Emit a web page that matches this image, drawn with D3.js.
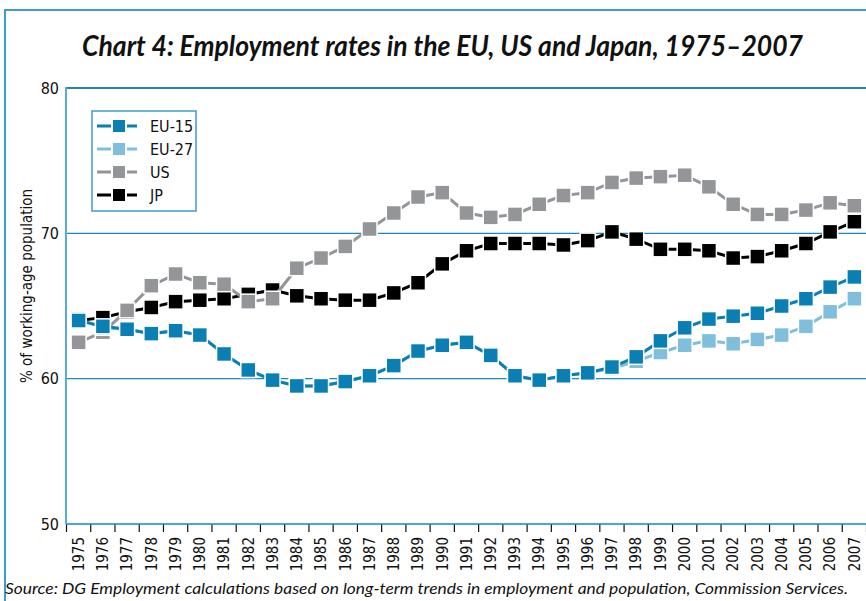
<!DOCTYPE html>
<html lang="en">
<head>
  <meta charset='utf-8'>
  <title>Chart 4: Employment rates in the EU, US and Japan, 1975-2007</title>

  <style>
    body { margin: 0; background: #fff; }
    svg { display: block; }
    .cond { font-family: "DejaVu Sans Condensed", "Liberation Sans Narrow", sans-serif; font-stretch: condensed; }
  </style>
</head>

<body>
  <div id="chart4"></div>
</body>

<script src="https://cdn.jsdelivr.net/npm/d3@7/dist/d3.min.js"></script>

<script>

  ////////////////////////////////////////////////// DATA

  var years = d3.range(1975, 2008);

  var eu15 = [64.0, 63.6, 63.4, 63.1, 63.3, 63.0, 61.7, 60.6, 59.9, 59.5, 59.5, 59.8,
              60.2, 60.9, 61.9, 62.3, 62.5, 61.6, 60.2, 59.9, 60.2, 60.4, 60.8,
              61.5, 62.6, 63.5, 64.1, 64.3, 64.5, 65.0, 65.5, 66.3, 67.0];

  var eu27 = [64.1, 63.5, 63.4, 63.1, 63.3, 63.0, 61.7, 60.6, 59.9, 59.5, 59.5, 59.8,
              60.2, 60.9, 61.9, 62.3, 62.5, 61.6, 60.2, 59.9, 60.2, 60.4, 60.7,
              61.2, 61.8, 62.3, 62.6, 62.4, 62.7, 63.0, 63.6, 64.6, 65.5];

  var us   = [62.5, 63.2, 64.7, 66.4, 67.2, 66.6, 66.5, 65.3, 65.5, 67.6, 68.3, 69.1,
              70.3, 71.4, 72.5, 72.8, 71.4, 71.1, 71.3, 72.0, 72.6, 72.8, 73.5,
              73.8, 73.9, 74.0, 73.2, 72.0, 71.3, 71.3, 71.6, 72.1, 71.9];

  var jp   = [64.0, 64.2, 64.6, 64.9, 65.3, 65.4, 65.5, 65.8, 66.1, 65.7, 65.5, 65.4,
              65.4, 65.9, 66.6, 67.9, 68.8, 69.3, 69.3, 69.3, 69.2, 69.5, 70.1,
              69.6, 68.9, 68.9, 68.8, 68.3, 68.4, 68.8, 69.3, 70.1, 70.8];

  var yTicks = [50, 60, 70, 80];

  // drawing order: first drawn ends up underneath
  var series = [
    {name: "JP",    values: jp,   color: "#000000"},
    {name: "US",    values: us,   color: "#939598"},
    {name: "EU-27", values: eu27, color: "#7fbfdc"},
    {name: "EU-15", values: eu15, color: "#0a7fb4"}
  ];
  var legendOrder = ["EU-15", "EU-27", "US", "JP"];

  ////////////////////////////////////////////////// SETUP

  var width = 866, height = 601;
  var frameBlue = "#3c9dc9";
  var gridBlue = "#1a86bd";

  var svg = d3.select("#chart4").append("svg")
    .attr("width", width)
    .attr("height", height);

  // outer frame (runs off the right and bottom edges)
  svg.append("rect")
    .attr("x", 5).attr("y", 10)
    .attr("width", 900).attr("height", 700)
    .attr("fill", "none")
    .attr("stroke", frameBlue)
    .attr("stroke-width", 2);

  var x = d3.scaleBand()
    .domain(years)
    .range([66.5, 866.5]);

  var y = d3.scaleLinear()
    .domain([50, 80])
    .range([524, 88]);

  ////////////////////////////////////////////////// TITLES

  svg.append("text")
    .attr("x", 82).attr("y", 56)
    .attr("textLength", 721)
    .attr("lengthAdjust", "spacingAndGlyphs")
    .attr("font-family", "Lato, 'Open Sans', sans-serif")
    .attr("font-style", "italic")
    .attr("font-weight", "bold")
    .attr("font-size", 28)
    .attr("fill", "#111")
    .text("Chart 4: Employment rates in the EU, US and Japan, 1975\u20132007");

  svg.append("text")
    .attr("x", 5).attr("y", 594)
    .attr("textLength", 843)
    .attr("lengthAdjust", "spacingAndGlyphs")
    .attr("font-family", "Lato, 'Open Sans', sans-serif")
    .attr("font-style", "italic")
    .attr("font-size", 16)
    .attr("fill", "#111")
    .text("Source: DG Employment calculations based on long-term trends in employment and population, Commission Services.");

  svg.append("text")
    .attr("class", "cond")
    .attr("transform", "translate(32,286) rotate(-90)")
    .attr("text-anchor", "middle")
    .attr("font-size", 15)
    .attr("fill", "#111")
    .text("% of working-age population");

  ////////////////////////////////////////////////// GRID + AXES

  // gridlines at 60 and 70, top edge at 80
  svg.selectAll(".grid")
    .data(yTicks.slice(1))
    .enter().append("line")
    .attr("x1", 66).attr("x2", width)
    .attr("y1", function(d) { return y(d); })
    .attr("y2", function(d) { return y(d); })
    .attr("stroke", gridBlue)
    .attr("stroke-width", function(d) { return d == 80 ? 2 : 1.3; });

  // y tick labels
  svg.selectAll(".ylab")
    .data(yTicks)
    .enter().append("text")
    .attr("class", "cond")
    .attr("x", 59)
    .attr("y", function(d) { return y(d); })
    .attr("dy", "0.35em")
    .attr("text-anchor", "end")
    .attr("font-size", 16)
    .attr("fill", "#111")
    .text(function(d) { return d; });

  // x axis: ticks on band edges, labels rotated
  var xAxis = svg.append("g")
    .attr("class", "cond")
    .attr("transform", "translate(0," + y(50) + ")");

  xAxis.selectAll(".xtick")
    .data(years.concat([2008]))
    .enter().append("line")
    .attr("x1", function(d) { return d == 2008 ? x(2007) + x.bandwidth() : x(d); })
    .attr("x2", function(d) { return d == 2008 ? x(2007) + x.bandwidth() : x(d); })
    .attr("y1", 0).attr("y2", 8)
    .attr("stroke", "#111")
    .attr("stroke-width", 1.2);

  xAxis.selectAll(".xlab")
    .data(years)
    .enter().append("text")
    .attr("transform", function(d) {
      return "translate(" + (x(d) + x.bandwidth() / 2) + ",13) rotate(-90)";
    })
    .attr("text-anchor", "end")
    .attr("dy", "0.35em")
    .attr("font-size", 15)
    .attr("fill", "#111")
    .text(function(d) { return d; });

  // bottom axis line + left axis line
  svg.append("line")
    .attr("x1", 66).attr("x2", width)
    .attr("y1", y(50)).attr("y2", y(50))
    .attr("stroke", gridBlue)
    .attr("stroke-width", 1.5);

  svg.append("line")
    .attr("x1", 66).attr("x2", 66)
    .attr("y1", y(80) - 1).attr("y2", y(50))
    .attr("stroke", "#55acd6")
    .attr("stroke-width", 2);

  ////////////////////////////////////////////////// SERIES

  var line = d3.line()
    .x(function(d, i) { return x(years[i]) + x.bandwidth() / 2; })
    .y(function(d) { return y(d); });

  var mk = 15;

  series.forEach(function(s) {
    var g = svg.append("g");

    g.append("path")
      .attr("d", line(s.values))
      .attr("fill", "none")
      .attr("stroke", s.color)
      .attr("stroke-width", 3);

    g.selectAll("rect")
      .data(s.values)
      .enter().append("rect")
      .attr("x", function(d, i) { return x(years[i]) + x.bandwidth() / 2 - mk / 2; })
      .attr("y", function(d) { return y(d) - mk / 2; })
      .attr("width", mk).attr("height", mk)
      .attr("fill", s.color)
      .attr("stroke", "#fff")
      .attr("stroke-width", 1.5);
  });

  ////////////////////////////////////////////////// LEGEND

  var legend = svg.append("g").attr("transform", "translate(92,111)");

  legend.append("rect")
    .attr("width", 104).attr("height", 100)
    .attr("fill", "#fff")
    .attr("stroke", frameBlue)
    .attr("stroke-width", 1.5);

  legendOrder.forEach(function(name, i) {
    var s = series.filter(function(d) { return d.name == name; })[0];
    var row = legend.append("g").attr("transform", "translate(0," + (15 + i * 23) + ")");

    row.append("line")
      .attr("x1", 5).attr("x2", 45)
      .attr("stroke", s.color)
      .attr("stroke-width", 3);

    row.append("rect")
      .attr("x", 20).attr("y", -7)
      .attr("width", 14).attr("height", 14)
      .attr("fill", s.color)
      .attr("stroke", "#fff")
      .attr("stroke-width", 2);

    row.append("text")
      .attr("class", "cond")
      .attr("x", 58)
      .attr("dy", "0.35em")
      .attr("font-size", 16)
      .attr("fill", "#111")
      .text(name);
  });

</script>

</html>
